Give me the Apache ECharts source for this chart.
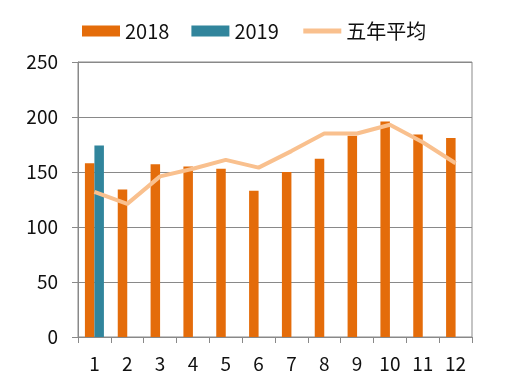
<!DOCTYPE html>
<html>
<head>
<meta charset="utf-8">
<script src="https://cdn.jsdelivr.net/npm/echarts@6/dist/echarts.min.js"></script>
<style>
html,body{margin:0;padding:0;background:#fff;}
#c{width:505px;height:391px;}
</style>
</head>
<body>
<div id="c"></div>
<script>
var categories = ['1','2','3','4','5','6','7','8','9','10','11','12'];
var s2018 = [158, 134, 157, 155, 153, 133, 150, 162, 183, 196, 184, 181];
var s2019 = [174, null, null, null, null, null, null, null, null, null, null, null];
var avg5 = [132, 121, 146, 153, 161, 154, 169, 185, 185, 193, 177, 158];
var yTicks = [0, 50, 100, 150, 200, 250];

var font = '"Noto Sans CJK SC", "Open Sans", sans-serif';
var chart = echarts.init(document.getElementById('c'), null, {renderer: 'canvas'});
chart.setOption({
  animation: false,
  legend: {
    left: 77, top: 16,
    itemWidth: 38, itemHeight: 11, itemGap: 22,
    textStyle: {fontSize: 20, color: '#111', fontFamily: font},
    data: [
      {name: '2018', icon: 'rect'},
      {name: '2019', icon: 'rect'},
      {name: '五年平均', itemStyle: {opacity: 0}, lineStyle: {width: 5, color: '#F9C08E'}}
    ]
  },
  grid: {
    left: 78, right: 33, top: 62, bottom: 54,
    show: true, borderColor: '#898989', borderWidth: 1
  },
  xAxis: {
    type: 'category',
    data: categories,
    boundaryGap: true,
    axisLine: {lineStyle: {color: '#898989', width: 1}},
    axisTick: {show: true, length: 6, interval: 0, lineStyle: {color: '#898989'}},
    axisLabel: {fontSize: 19, color: '#111', fontFamily: font, margin: 17, interval: 0}
  },
  yAxis: {
    type: 'value',
    min: yTicks[0], max: yTicks[yTicks.length - 1], interval: 50,
    axisLine: {show: true, lineStyle: {color: '#898989', width: 1}},
    axisTick: {show: true, length: 6, lineStyle: {color: '#898989'}},
    axisLabel: {fontSize: 19, color: '#111', fontFamily: font, margin: 20},
    splitLine: {show: true, lineStyle: {color: '#898989', width: 1}}
  },
  series: [
    {
      name: '2018', type: 'bar', data: s2018,
      barWidth: 9.5, barGap: '0%',
      itemStyle: {color: '#E46C0A'}
    },
    {
      name: '2019', type: 'bar', data: s2019,
      barWidth: 9.5, barGap: '0%',
      itemStyle: {color: '#31859C'}
    },
    {
      name: '五年平均', type: 'line', data: avg5,
      symbol: 'none', showSymbol: false,
      lineStyle: {color: '#F9C08E', width: 4},
      itemStyle: {color: '#F9C08E'},
      z: 5
    }
  ]
});
</script>
</body>
</html>
